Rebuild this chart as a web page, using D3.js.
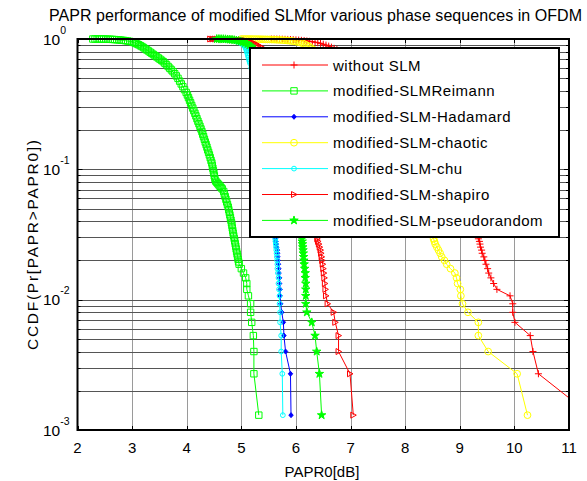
<!DOCTYPE html>
<html><head><meta charset="utf-8">
<script src="https://cdn.jsdelivr.net/npm/d3@7"></script>
<style>body{margin:0;background:#fff} svg{display:block} text{font-family:Arial,"Liberation Sans",sans-serif;fill:#000}</style>
</head><body><svg id="c" width="587" height="481"></svg>
<script>
const titleText = "PAPR performance of modified SLMfor various phase sequences in OFDM";
const xLabel = "PAPR0[dB]";
const yLabel = "CCDF(Pr[PAPR>PAPR0])";
const xTicks = [2,3,4,5,6,7,8,9,10,11];
const yTicks = [0.001,0.01,0.1,1];
const yTickExp = ["-3","-2","-1","0"];
const seriesNames = ["without SLM","modified-SLMReimann","modified-SLM-Hadamard","modified-SLM-chaotic","modified-SLM-chu","modified-SLM-shapiro","modified-SLM-pseudorandom"];
const seriesColors = ["#ff0000","#00ff00","#0000ff","#ffff00","#00ffff","#ff0000","#00ff00"];
const seriesMarkers = ["plus","square","dot","circle","hex","tri","star"];

const withoutPapr = [5.55,5.60,5.65,5.70,5.75,5.80,5.85,5.90,5.95,6.00,6.05,6.10,6.15,6.20,6.25,6.30,6.35,6.40,6.45,6.50,6.55,6.60,6.65,6.70,6.75,
  7.0,7.4,7.8,8.2,8.55,8.85,9.1,9.25,
  9.34,9.36,9.37,9.38,9.40,9.41,9.44,9.46,9.48,9.51,9.53,9.57,9.62,9.68,9.92,9.97,9.97,10.01,10.29,10.34,10.44,11.4];
const withoutCcdf = [1,1,0.999,0.998,0.997,0.995,0.993,0.991,0.988,0.985,0.981,0.977,0.972,0.966,0.96,0.953,0.945,0.936,0.926,0.912,0.898,0.882,0.866,0.848,0.83,
  0.74,0.58,0.40,0.22,0.11,0.06,0.04,0.033,
  0.0293,0.028,0.0267,0.0253,0.024,0.0227,0.0213,0.02,0.0187,0.0173,0.016,0.0147,0.0133,0.012,0.0107,0.0093,0.008,0.0067,0.0053,0.004,0.0027,0.0013];

const reimannPapr = [2.28,2.32,2.36,2.40,2.44,2.48,2.52,2.56,2.60,2.64,2.68,2.72,2.76,2.80,2.84,2.88,2.92,2.96,
  3.00,3.03,3.06,3.09,3.12,3.15,3.18,3.21,3.24,3.27,3.30,3.33,3.36,3.39,3.42,3.45,3.48,3.51,3.54,3.57,3.60,3.63,3.66,3.69,3.72,3.75,3.78,3.81,3.84,3.87,3.90,3.93,3.96,3.99,
  4.013,4.032,4.052,4.071,4.091,4.111,4.130,4.150,4.168,4.187,4.205,4.224,4.242,4.261,4.278,4.293,4.308,4.324,4.339,4.355,4.370,4.385,4.400,4.415,4.430,4.445,4.460,4.469,4.478,4.488,4.497,4.506,4.515,
  4.53,4.55,4.57,4.59,4.61,4.63,4.65,4.677,4.69,4.705,4.718,4.732,4.746,4.760,4.770,4.780,4.790,4.800,4.810,4.820,4.828,4.835,4.843,4.850,4.860,4.870,4.879,4.888,4.897,4.906,4.914,4.923,4.932,4.941,4.950,
  4.96,5.00,5.04,5.08,5.10,5.10,5.13,5.17,5.17,5.19,5.22,5.23,5.23,5.32];
const reimannCcdf = [1,1,1,1,1,0.999,0.998,0.997,0.995,0.993,0.99,0.987,0.984,0.98,0.976,0.971,0.965,0.958,
  0.951,0.940,0.929,0.916,0.904,0.889,0.875,0.859,0.841,0.824,0.809,0.792,0.776,0.760,0.745,0.729,0.715,0.700,0.685,0.670,0.652,0.634,0.615,0.597,0.579,0.561,0.542,0.521,0.499,0.475,0.452,0.431,0.409,0.389,
  0.372,0.355,0.339,0.324,0.309,0.295,0.282,0.269,0.257,0.245,0.234,0.224,0.214,0.204,0.195,0.186,0.178,0.170,0.162,0.155,0.148,0.141,0.135,0.129,0.123,0.117,0.112,0.107,0.102,0.0977,0.0933,0.0891,0.0851,
  0.0813,0.0794,0.0776,0.0759,0.0741,0.0724,0.0708,0.0676,0.0646,0.0617,0.0589,0.0562,0.0537,0.0513,0.0490,0.0468,0.0447,0.0427,0.0407,0.0389,0.0372,0.0355,0.0339,0.0324,0.0309,0.0295,0.0282,0.0269,0.0257,0.0245,0.0234,0.0224,0.0214,0.0204,0.0195,
  0.0187,0.0173,0.016,0.0147,0.0133,0.012,0.0107,0.0093,0.008,0.0067,0.0053,0.004,0.0027,0.0013];

const hadamardPapr = [4.47,4.51,4.55,4.59,4.63,4.67,4.71,4.75,4.79,4.83,4.87,4.91,4.95,4.99,5.02,5.05,5.08,5.11,5.13,5.16,5.18,5.25,5.32,5.40,5.47,5.53,5.58,5.61,
  5.63,5.635,5.64,5.65,5.66,5.665,5.67,5.675,5.68,5.685,5.69,5.70,5.70,5.71,5.71,5.72,5.74,5.77,5.78,5.81,5.90,5.91];
const hadamardCcdf = [1,1,0.999,0.998,0.997,0.995,0.994,0.992,0.989,0.985,0.98,0.973,0.965,0.953,0.94,0.922,0.9,0.875,0.85,0.81,0.78,0.62,0.45,0.28,0.15,0.08,0.045,0.034,
  0.0293,0.028,0.0267,0.0253,0.024,0.0227,0.0213,0.02,0.0187,0.0173,0.016,0.0147,0.0133,0.012,0.0107,0.0093,0.008,0.0067,0.0053,0.004,0.0027,0.0013];

const chaoticPapr = [5.00,5.04,5.08,5.12,5.16,5.20,5.24,5.28,5.32,5.36,5.40,5.44,5.48,5.52,5.56,5.60,5.64,5.68,5.72,5.76,5.80,5.84,5.88,5.92,5.96,6.00,6.04,6.08,6.12,6.16,6.20,6.24,6.28,6.32,
  6.6,7.0,7.5,7.9,8.2,8.4,8.48,
  8.52,8.535,8.55,8.58,8.61,8.64,8.67,8.72,8.76,8.83,8.91,8.94,8.96,9.01,9.02,9.05,9.15,9.34,9.34,9.52,10.05,10.24];
const chaoticCcdf = [1,1,1,0.999,0.999,0.999,0.998,0.998,0.997,0.996,0.995,0.994,0.993,0.992,0.99,0.989,0.987,0.985,0.983,0.98,0.977,0.974,0.97,0.966,0.961,0.955,0.948,0.94,0.928,0.912,0.895,0.875,0.853,0.83,
  0.7,0.5,0.27,0.12,0.065,0.04,0.033,
  0.0293,0.028,0.0267,0.0253,0.024,0.0227,0.0213,0.02,0.0187,0.0173,0.016,0.0147,0.0133,0.012,0.0107,0.0093,0.008,0.0067,0.0053,0.004,0.0027,0.0013];

const chuPapr = [4.45,4.49,4.53,4.57,4.61,4.65,4.69,4.73,4.77,4.81,4.85,4.89,4.92,4.95,4.98,5.01,5.03,5.05,5.07,5.08,5.09,5.10,5.11,5.12,5.13,5.14,5.15,5.16,5.18,5.25,5.33,5.41,5.48,5.55,5.60,
  5.62,5.625,5.63,5.635,5.64,5.645,5.65,5.655,5.66,5.66,5.67,5.68,5.68,5.69,5.70,5.70,5.71,5.71,5.73,5.73,5.75,5.76];
const chuCcdf = [1,1,0.999,0.998,0.997,0.995,0.993,0.99,0.987,0.982,0.976,0.968,0.96,0.948,0.935,0.918,0.905,0.89,0.87,0.85,0.825,0.80,0.775,0.745,0.72,0.695,0.67,0.65,0.6,0.45,0.28,0.15,0.08,0.045,0.034,
  0.0293,0.028,0.0267,0.0253,0.024,0.0227,0.0213,0.02,0.0187,0.0173,0.016,0.0147,0.0133,0.012,0.0107,0.0093,0.008,0.0067,0.0053,0.004,0.0027,0.0013];

const shapiroPapr = [4.43,4.47,4.51,4.55,4.59,4.63,4.67,4.71,4.75,4.79,4.83,4.87,4.91,4.95,4.99,5.03,5.07,5.11,5.15,5.19,5.23,5.27,5.31,5.35,5.40,5.6,5.8,6.0,6.15,6.27,6.35,
  6.39,6.405,6.42,6.435,6.45,6.46,6.47,6.48,6.49,6.50,6.51,6.52,6.53,6.54,6.55,6.58,6.69,6.72,6.78,6.78,6.99,7.05];
const shapiroCcdf = [1,1,1,0.999,0.999,0.998,0.998,0.997,0.996,0.995,0.994,0.992,0.99,0.987,0.983,0.978,0.972,0.964,0.955,0.944,0.93,0.914,0.895,0.875,0.85,0.72,0.52,0.3,0.14,0.065,0.038,
  0.0293,0.028,0.0267,0.0253,0.024,0.0227,0.0213,0.02,0.0187,0.0173,0.016,0.0147,0.0133,0.012,0.0107,0.0093,0.008,0.0067,0.0053,0.004,0.0027,0.0013];

const pseudoPapr = [4.55,4.59,4.63,4.67,4.71,4.75,4.79,4.83,4.87,4.91,4.95,4.99,5.03,5.07,5.11,5.15,5.19,5.23,5.45,5.65,5.82,5.95,6.04,6.09,
  6.11,6.115,6.12,6.125,6.13,6.135,6.14,6.145,6.15,6.16,6.17,6.17,6.18,6.18,6.18,6.18,6.20,6.29,6.35,6.38,6.43,6.47];
const pseudoCcdf = [1,1,0.999,0.998,0.996,0.993,0.99,0.986,0.981,0.975,0.967,0.958,0.947,0.933,0.915,0.893,0.868,0.84,0.72,0.5,0.28,0.13,0.06,0.036,
  0.0293,0.028,0.0267,0.0253,0.024,0.0227,0.0213,0.02,0.0187,0.0173,0.016,0.0147,0.0133,0.012,0.0107,0.0093,0.008,0.0067,0.0053,0.004,0.0027,0.0013];

const seriesX = [withoutPapr,reimannPapr,hadamardPapr,chaoticPapr,chuPapr,shapiroPapr,pseudoPapr];
const seriesY = [withoutCcdf,reimannCcdf,hadamardCcdf,chaoticCcdf,chuCcdf,shapiroCcdf,pseudoCcdf];

const svg = d3.select("#c");
const L = 77.5, R = 569, T = 39, B = 430;
const x = d3.scaleLinear().domain([2,11]).range([L,R]);
const y = d3.scaleLog().domain([0.001,1]).range([B,T]);

svg.append("rect").attr("width",587).attr("height",481).attr("fill","#fff");

// grid
const minor = [];
for (let e=-3;e<0;e++) for (let m=2;m<=9;m++) minor.push(m*Math.pow(10,e));
const g = svg.append("g");
g.selectAll(".vg").data(xTicks.slice(1,-1)).enter().append("line")
  .attr("x1",d=>Math.round(x(d))+0.5).attr("x2",d=>Math.round(x(d))+0.5).attr("y1",T).attr("y2",B)
  .attr("stroke","#9a9a9a").attr("stroke-width",1);
g.selectAll(".hg").data(minor.concat([0.01,0.1])).enter().append("line")
  .attr("y1",d=>Math.round(y(d))+0.5).attr("y2",d=>Math.round(y(d))+0.5).attr("x1",L).attr("x2",R)
  .attr("stroke","#555").attr("stroke-width",1);

// ticks
const tk = svg.append("g").attr("stroke","#000").attr("stroke-width",1);
xTicks.forEach(v=>{
  const px = Math.round(x(v))+0.5;
  tk.append("line").attr("x1",px).attr("x2",px).attr("y1",B).attr("y2",B-4);
  tk.append("line").attr("x1",px).attr("x2",px).attr("y1",T).attr("y2",T+4);
});
yTicks.forEach(v=>{
  const py = Math.round(y(v))+0.5;
  tk.append("line").attr("x1",L).attr("x2",L+5).attr("y1",py).attr("y2",py);
  tk.append("line").attr("x1",R).attr("x2",R-5).attr("y1",py).attr("y2",py);
});
minor.forEach(v=>{
  const py = Math.round(y(v))+0.5;
  tk.append("line").attr("x1",L).attr("x2",L+3).attr("y1",py).attr("y2",py);
  tk.append("line").attr("x1",R).attr("x2",R-3).attr("y1",py).attr("y2",py);
});

// curves
svg.append("clipPath").attr("id","clip").append("rect").attr("x",L).attr("y",T-6).attr("width",R-L).attr("height",B-T+6);
function markerPath(type){
  switch(type){
    case "plus": return "M-3.5,0H3.5M0,-3.5V3.5";
    case "square": return "M-3.2,-3.2H3.2V3.2H-3.2Z";
    case "dot": return "M0,-2.5L2.2,0L0,2.5L-2.2,0Z";
    case "circle": return d3.symbol(d3.symbolCircle, 36)();
    case "hex": return d3.symbol(d3.symbolCircle, 18)();
    case "tri": return "M-2.5,-3L3,0L-2.5,3Z";
    case "star": return d3.symbol(d3.symbolStar, 22)();
  }
}
const line = d3.line().x(d=>x(d[0])).y(d=>y(d[1]));
seriesNames.forEach((name,i)=>{
  const pts = seriesX[i].map((v,j)=>[v,seriesY[i][j]]);
  const col = seriesColors[i];
  svg.append("path").attr("d",line(pts)).attr("fill","none").attr("stroke",col).attr("stroke-width",1).attr("clip-path","url(#clip)");
  const fill = (seriesMarkers[i]==="dot"||seriesMarkers[i]==="star") ? col : "none";
  svg.append("g").selectAll("path").data(pts.filter(p=>p[0]<=11)).enter().append("path")
    .attr("transform",d=>`translate(${x(d[0])},${y(d[1])})`)
    .attr("d",markerPath(seriesMarkers[i])).attr("fill",fill).attr("stroke",col).attr("stroke-width",1);
});

// box
svg.append("rect").attr("x",L).attr("y",T).attr("width",R-L).attr("height",B-T).attr("fill","none").attr("stroke","#000").attr("stroke-width",2);

// tick labels
svg.selectAll(".xt").data(xTicks).enter().append("text")
  .attr("x",d=>x(d)).attr("y",453).attr("text-anchor","middle").attr("font-size",15).text(d=>d);
yTicks.forEach((v,i)=>{
  const t = svg.append("text").attr("x",43).attr("y",y(v)+5.5).attr("font-size",15.5);
  t.append("tspan").text("10");
  t.append("tspan").attr("dy",-11).attr("font-size",10.5).text(yTickExp[i]);
});

// labels
svg.append("text").attr("x",322).attr("y",477).attr("text-anchor","middle").attr("font-size",15).text(xLabel);
svg.append("text").attr("transform","translate(38,245) rotate(-90)").attr("text-anchor","middle").attr("font-size",15.5)
  .attr("textLength",210).attr("lengthAdjust","spacing").text(yLabel);
svg.append("text").attr("x",315.5).attr("y",20.5).attr("text-anchor","middle").attr("font-size",16)
  .attr("textLength",533).attr("lengthAdjust","spacing").text(titleText);

// legend
const lg = svg.append("g");
lg.append("rect").attr("x",250).attr("y",48).attr("width",309).attr("height",189).attr("fill","#fff").attr("stroke","#000").attr("stroke-width",2);
seriesNames.forEach((name,i)=>{
  const cy = 65 + i*25.9;
  const col = seriesColors[i];
  lg.append("line").attr("x1",262).attr("x2",328).attr("y1",cy).attr("y2",cy).attr("stroke",col).attr("stroke-width",1);
  const fill = (seriesMarkers[i]==="dot"||seriesMarkers[i]==="star") ? col : "none";
  lg.append("path").attr("transform",`translate(294,${cy})`).attr("d",markerPath(seriesMarkers[i])).attr("fill",fill).attr("stroke",col);
  lg.append("text").attr("x",333).attr("y",cy+5.5).attr("font-size",15).attr("letter-spacing",0.5).text(name);
});
</script></body></html>
